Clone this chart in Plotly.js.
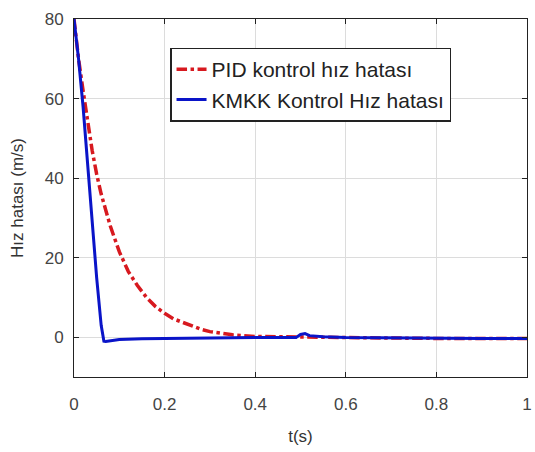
<!DOCTYPE html>
<html><head><meta charset="utf-8">
<script src="https://cdn.plot.ly/plotly-3.0.1.min.js"></script>
<style>body{margin:0;background:#fff}#c{width:535px;height:452px}</style>
</head><body><div id="c"></div>
<script>
const pidT = [0, 0.01, 0.02, 0.03, 0.04, 0.05, 0.06, 0.07, 0.08, 0.10, 0.12, 0.14, 0.16, 0.18, 0.20, 0.22, 0.25, 0.28, 0.30, 0.35, 0.40, 0.50, 0.60, 0.70, 0.80, 0.90, 1.0];
const pidV = [80, 70, 62, 54, 47, 41, 36, 32, 28, 21.5, 16.5, 13, 10, 7.7, 6, 4.6, 3.2, 2.0, 1.4, 0.6, 0.2, 0, -0.1, -0.2, -0.3, -0.3, -0.3];
const kmkkT = [0, 0.01, 0.02, 0.03, 0.04, 0.05, 0.06, 0.066, 0.07, 0.08, 0.10, 0.15, 0.20, 0.30, 0.40, 0.49, 0.50, 0.51, 0.52, 0.55, 0.60, 0.70, 0.80, 0.90, 1.0];
const kmkkV = [80, 70, 58, 43, 29, 15, 3, -1, -1.1, -0.9, -0.6, -0.4, -0.3, -0.2, -0.1, -0.1, 0.7, 0.9, 0.4, 0.1, -0.1, -0.2, -0.3, -0.3, -0.3];
const xTicks = [0, 0.2, 0.4, 0.6, 0.8, 1];
const xTickText = ['0', '0.2', '0.4', '0.6', '0.8', '1'];
const yTicks = [0, 20, 40, 60, 80];

const font = 'Liberation Sans, Arial, sans-serif';
const traces = [
  {x: pidT, y: pidV, mode: 'lines', name: 'PID kontrol hız hatası',
   line: {color: '#d7191f', width: 3.5, dash: 'dashdot'}},
  {x: kmkkT, y: kmkkV, mode: 'lines', name: 'KMKK Kontrol Hız hatası',
   line: {color: '#0a14c8', width: 3}}
];
const axisCommon = {showline: true, mirror: 'ticks', linecolor: '#222', linewidth: 1,
  ticks: 'inside', ticklen: 5, tickcolor: '#222', showgrid: true, gridcolor: '#dcdcdc',
  zeroline: false, tickfont: {family: font, size: 17, color: '#444'}};
const layout = {
  width: 535, height: 452,
  margin: {l: 74, r: 8, t: 19, b: 75},
  paper_bgcolor: '#fff', plot_bgcolor: '#fff',
  showlegend: true,
  legend: {x: 0.212, y: 0.92, xanchor: 'left', yanchor: 'top',
    bordercolor: '#222', borderwidth: 1.5, bgcolor: '#fff', tracegroupgap: 0,
    font: {family: font, size: 21, color: '#222'}},
  xaxis: Object.assign({}, axisCommon, {range: [0, 1], tickvals: xTicks, ticktext: xTickText,
    ticklabelstandoff: 12,
    title: {text: 't(s)', font: {family: font, size: 17, color: '#333'}, standoff: 16}}),
  yaxis: Object.assign({}, axisCommon, {range: [-10, 80], tickvals: yTicks,
    ticklabelstandoff: 6,
    title: {text: 'Hız hatası (m/s)', font: {family: font, size: 17, color: '#333'}, standoff: 16}})
};
Plotly.newPlot('c', traces, layout, {displayModeBar: false, staticPlot: true});
</script></body></html>
